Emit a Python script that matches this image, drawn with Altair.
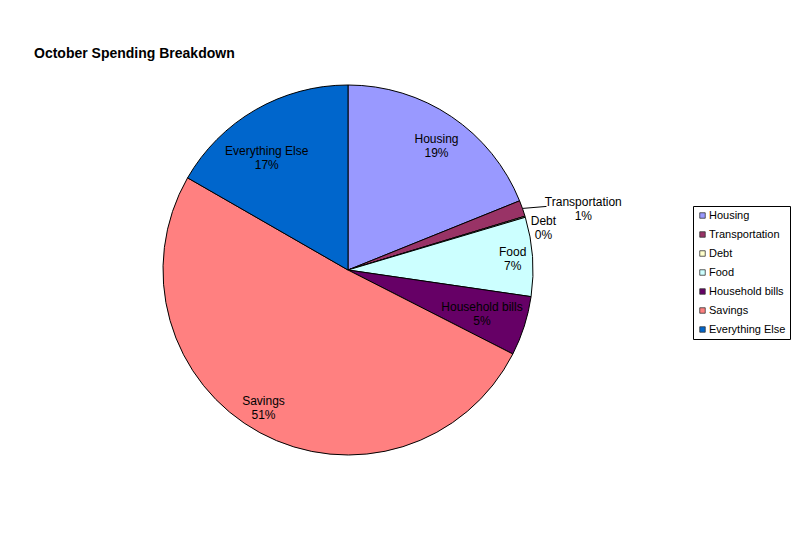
import altair as alt
import pandas as pd

# ---- data ----
categories = ["Housing", "Transportation", "Debt", "Food", "Household bills", "Savings", "Everything Else"]
values = [18.9, 1.4, 0.1, 6.9, 5.2, 50.8, 16.7]
colors = ["#9999FF", "#993366", "#FFFFCC", "#CCFFFF", "#660066", "#FF8080", "#0066CC"]

# ---- layout / style ----
CX, CY, R = 340, 262, 185
label_radius = [152, 243, 200, 165, 141, 162, 138]
label_nudge_deg = [1.6, 5, 4.5, 0.3, 0.5, 3, -6]
FONT = "Liberation Sans"

df = pd.DataFrame({"category": categories, "value": values, "order": list(range(len(categories)))})

base = alt.Chart(df).transform_window(
    cum="sum(value)", sort=[alt.SortField("order")], frame=[None, 0]
).transform_joinaggregate(
    total="sum(value)"
).transform_calculate(
    frac="datum.value / datum.total",
    mid="(datum.cum - datum.value / 2) / datum.total * 2 * PI",
)

arcs = alt.Chart(df).mark_arc(
    radius=R, stroke="black", strokeWidth=1, x=CX, y=CY
).encode(
    theta=alt.Theta("value:Q", stack=True),
    order=alt.Order("order:Q"),
    color=alt.Color(
        "category:N",
        sort=categories,
        scale=alt.Scale(domain=categories, range=colors),
        legend=alt.Legend(
            title=None,
            orient="none",
            legendX=685,
            legendY=198,
            direction="vertical",
            strokeColor="black",
            fillColor="white",
            padding=4,
            symbolType="square",
            symbolSize=30,
            symbolStrokeColor="#333333",
            symbolStrokeWidth=0.8,
            symbolOffset=0,
            labelFont=FONT,
            labelFontSize=11,
            labelColor="black",
            labelOffset=1,
            rowPadding=7,
        ),
    ),
)

lr = "[" + ",".join(str(v) for v in label_radius) + "]"
ln = "[" + ",".join(str(v) for v in label_nudge_deg) + "]"

labels = base.transform_calculate(
    r=f"{lr}[datum.order]",
    a=f"datum.mid + {ln}[datum.order] * PI / 180",
).transform_calculate(
    lx=f"{CX} + datum.r * sin(datum.a)",
    ly=f"{CY} - datum.r * cos(datum.a)",
    txt="datum.category + '\\n' + format(datum.frac, '.0%')",
).mark_text(
    font=FONT, fontSize=12, lineBreak="\n", lineHeight=14, align="center",
    baseline="middle", color="black", dy=-7,
).encode(
    x=alt.X("lx:Q", scale=None, axis=None),
    y=alt.Y("ly:Q", scale=None, axis=None),
    text="txt:N",
)

leader = base.transform_filter(
    "datum.category == 'Transportation'"
).transform_calculate(
    x1=f"{CX} + {R} * sin(datum.mid)",
    y1=f"{CY} - {R} * cos(datum.mid)",
).transform_calculate(
    x2="datum.x1 + 24",
    y2="datum.y1 - 2",
).mark_rule(color="black", strokeWidth=1).encode(
    x=alt.X("x1:Q", scale=None, axis=None),
    y=alt.Y("y1:Q", scale=None, axis=None),
    x2="x2:Q",
    y2="y2:Q",
)

chart = alt.layer(arcs, leader, labels).resolve_scale(
    x="independent", y="independent"
).properties(
    width=784,
    height=527,
    padding=0,
    autosize=alt.AutoSizeParams(type="none"),
    title=alt.TitleParams(
        "October Spending Breakdown",
        anchor="start",
        frame="group",
        offset=0,
        dx=26,
        dy=64,
        baseline="alphabetic",
        font=FONT,
        fontSize=14,
        fontWeight="bold",
        color="black",
    ),
).configure_view(stroke=None)

chart.save("out.html", embed_options={"renderer": "svg", "actions": False})
